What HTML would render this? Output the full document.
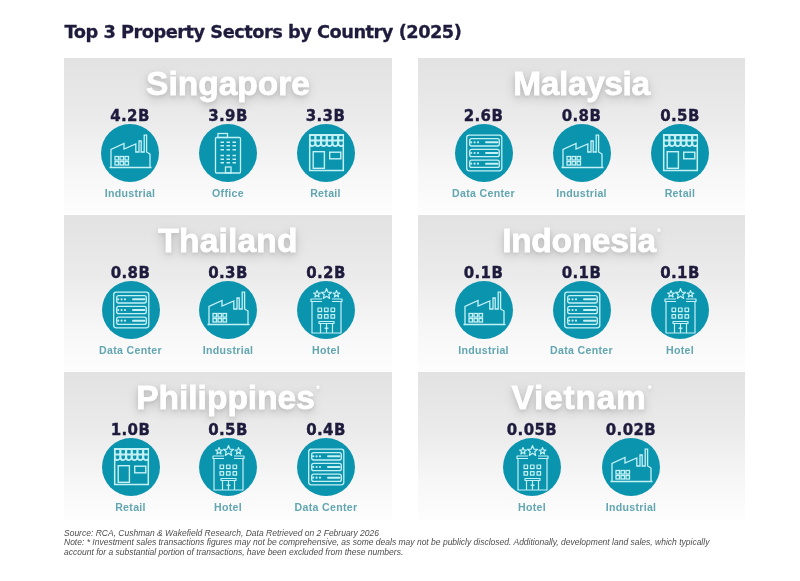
<!DOCTYPE html>
<html><head><meta charset="utf-8">
<style>
*{margin:0;padding:0;box-sizing:border-box}
html,body{width:800px;height:581px;background:#fff;overflow:hidden}
body{position:relative;font-family:"Liberation Sans",sans-serif}
h1{position:absolute;left:64.5px;top:20px;-webkit-text-stroke:0.3px #1e1b3d;font:700 17.8px/24px "DejaVu Sans",sans-serif;color:#1e1b3d;letter-spacing:-0.5px;white-space:nowrap}
.p{position:absolute;width:328px;height:156px;background:linear-gradient(180deg,#e2e2e2 0%,#ebebeb 40%,#f7f7f7 75%,#fdfdfd 100%)}
.cn{position:absolute;left:0;right:0;top:9px;text-align:center;font:700 33.5px/33px "Liberation Sans",sans-serif;letter-spacing:0px;color:#fff;-webkit-text-stroke:0.8px #fff;text-shadow:0 2px 4px rgba(0,0,0,.13),0 4px 12px rgba(0,0,0,.2)}
.cn sup{font-size:10px;line-height:9px;vertical-align:top;position:relative;top:4px;margin-left:1px;-webkit-text-stroke:0;letter-spacing:0}
.it{position:absolute;top:0;width:90px;margin-left:-45px;text-align:center}
.v{position:absolute;left:0;right:0;top:49px;font:700 15px/18px "DejaVu Sans",sans-serif;color:#1e1b3d;letter-spacing:0.4px;-webkit-text-stroke:0.35px #1e1b3d}
.c{position:absolute;left:16px;top:66px;width:58px;height:58px}
.l{position:absolute;left:0;right:0;top:129px;font:700 10.6px/13px "Liberation Sans",sans-serif;color:#62a6b1;letter-spacing:0.3px;white-space:nowrap}
.note{position:absolute;left:64px;top:529px;font:italic 400 8.5px/9.3px "Liberation Sans",sans-serif;color:#4d4d4d;white-space:nowrap}
</style></head><body>


<h1>Top 3 Property Sectors by Country (2025)</h1>

<!-- Singapore -->
<div class="p" style="left:64px;top:58px">
<div class="cn">Singapore</div>
<div class="it" style="left:66px"><div class="v">4.2B</div><svg class="c" viewBox="-29 -29 58 58"><circle r="29" fill="#0b94ae"/><g fill="none" stroke="#c4f1f6" stroke-width="1.3" stroke-linejoin="miter">
<path d="M-20.5 14.5H21.5M-19 14.5V-3.5L-6-9.5V-4L5.8-9V-1H9V-12H11.2V-1H14.2V-17.8H16.6V-1L20 1V14.5"/>
<rect x="-15" y="3.5" width="3.5" height="3.5"/><rect x="-10" y="3.5" width="3.5" height="3.5"/><rect x="-5" y="3.5" width="3.5" height="3.5"/>
<rect x="-15" y="8.5" width="3.5" height="3.5"/><rect x="-10" y="8.5" width="3.5" height="3.5"/><rect x="-5" y="8.5" width="3.5" height="3.5"/>
</g></svg><div class="l">Industrial</div></div>
<div class="it" style="left:164px"><div class="v">3.9B</div><svg class="c" viewBox="-29 -29 58 58"><circle r="29" fill="#0b94ae"/><g fill="none" stroke="#c4f1f6" stroke-width="1.3">
<rect x="-12.5" y="-15.5" width="25" height="35.5" rx="1"/>
<rect x="-10" y="-19.5" width="9.5" height="4"/>
<rect x="-2.5" y="14" width="5.5" height="6"/>
<path stroke-width="1.6" d="M-7.5-10.7H-4M-1.5-10.7H2M4.5-10.7H8M-7.5-7.2H-4M-1.5-7.2H2M4.5-7.2H8M-7.5-3.2H-4M-1.5-3.2H2M4.5-3.2H8M-7.5 2.5H-4M-1.5 2.5H2M4.5 2.5H8M-7.5 6.2H-4M-1.5 6.2H2M4.5 6.2H8M-7.5 9.8H-4M-1.5 9.8H2M4.5 9.8H8"/>
</g></svg><div class="l">Office</div></div>
<div class="it" style="left:261.5px"><div class="v">3.3B</div><svg class="c" viewBox="-29 -29 58 58"><circle r="29" fill="#0b94ae"/><g fill="none" stroke="#c4f1f6" stroke-width="1.4">
<path fill="#c4f1f6" stroke="none" d="M-17.05 -19H18.05V-7.2Q15.12 -4.6 12.20 -7.2Q9.27 -4.6 6.35 -7.2Q3.42 -4.6 0.50 -7.2Q-2.43 -4.6 -5.35 -7.2Q-8.28 -4.6 -11.20 -7.2Q-14.13 -4.6 -17.05 -7.2Z"/>
<g fill="#0b94ae" stroke="none"><rect x="-15.25" y="-17" width="3.5" height="3.5" rx="0.4"/><path d="M-15.25 -11.5h3.5v1.9a1.75 1.75 0 0 1 -3.5 0z"/><rect x="-9.55" y="-17" width="3.5" height="3.5" rx="0.4"/><path d="M-9.55 -11.5h3.5v1.9a1.75 1.75 0 0 1 -3.5 0z"/><rect x="-3.85" y="-17" width="3.5" height="3.5" rx="0.4"/><path d="M-3.85 -11.5h3.5v1.9a1.75 1.75 0 0 1 -3.5 0z"/><rect x="1.85" y="-17" width="3.5" height="3.5" rx="0.4"/><path d="M1.85 -11.5h3.5v1.9a1.75 1.75 0 0 1 -3.5 0z"/><rect x="7.55" y="-17" width="3.5" height="3.5" rx="0.4"/><path d="M7.55 -11.5h3.5v1.9a1.75 1.75 0 0 1 -3.5 0z"/><rect x="13.25" y="-17" width="3.5" height="3.5" rx="0.4"/><path d="M13.25 -11.5h3.5v1.9a1.75 1.75 0 0 1 -3.5 0z"/></g>
<path stroke-width="1.5" d="M-16.3 -8V17.5H17.3V-8"/>
<rect x="-12.8" y="-1.3" width="11.2" height="16.6"/>
<rect x="3.7" y="-0.8" width="11.1" height="6.6"/>
</g></svg><div class="l">Retail</div></div>
</div>

<!-- Malaysia -->
<div class="p" style="left:418px;top:58px;width:327px">
<div class="cn" style="letter-spacing:-0.4px">Malaysia</div>
<div class="it" style="left:65.5px"><div class="v">2.6B</div><svg class="c" viewBox="-29 -29 58 58"><circle r="29" fill="#0b94ae"/><g fill="none" stroke="#c4f1f6" stroke-width="1.3">
<rect x="-17.3" y="-17.8" width="35.1" height="35.6" rx="2.5"/>
<rect x="-14.3" y="-14.3" width="29.6" height="7.3" rx="2"/>
<rect x="-14.3" y="-3.6" width="29.6" height="7.3" rx="2"/>
<rect x="-14.3" y="7.1" width="29.6" height="7.3" rx="2"/>
<path stroke-width="2" stroke-linecap="round" d="M2 -10.7H13.5M2 0H13.5M2 10.7H13.5"/>
<g fill="#c4f1f6" stroke="none">
<circle cx="-12.8" cy="-10.7" r="1.1"/><circle cx="-9.4" cy="-10.7" r="1.1"/><circle cx="-6" cy="-10.7" r="1.1"/><circle cx="-12.8" cy="0" r="1.1"/><circle cx="-9.4" cy="0" r="1.1"/><circle cx="-6" cy="0" r="1.1"/><circle cx="-12.8" cy="10.7" r="1.1"/><circle cx="-9.4" cy="10.7" r="1.1"/><circle cx="-6" cy="10.7" r="1.1"/>
</g>
</g></svg><div class="l">Data Center</div></div>
<div class="it" style="left:163.5px"><div class="v">0.8B</div><svg class="c" viewBox="-29 -29 58 58"><circle r="29" fill="#0b94ae"/><g fill="none" stroke="#c4f1f6" stroke-width="1.3" stroke-linejoin="miter">
<path d="M-20.5 14.5H21.5M-19 14.5V-3.5L-6-9.5V-4L5.8-9V-1H9V-12H11.2V-1H14.2V-17.8H16.6V-1L20 1V14.5"/>
<rect x="-15" y="3.5" width="3.5" height="3.5"/><rect x="-10" y="3.5" width="3.5" height="3.5"/><rect x="-5" y="3.5" width="3.5" height="3.5"/>
<rect x="-15" y="8.5" width="3.5" height="3.5"/><rect x="-10" y="8.5" width="3.5" height="3.5"/><rect x="-5" y="8.5" width="3.5" height="3.5"/>
</g></svg><div class="l">Industrial</div></div>
<div class="it" style="left:262px"><div class="v">0.5B</div><svg class="c" viewBox="-29 -29 58 58"><circle r="29" fill="#0b94ae"/><g fill="none" stroke="#c4f1f6" stroke-width="1.4">
<path fill="#c4f1f6" stroke="none" d="M-17.05 -19H18.05V-7.2Q15.12 -4.6 12.20 -7.2Q9.27 -4.6 6.35 -7.2Q3.42 -4.6 0.50 -7.2Q-2.43 -4.6 -5.35 -7.2Q-8.28 -4.6 -11.20 -7.2Q-14.13 -4.6 -17.05 -7.2Z"/>
<g fill="#0b94ae" stroke="none"><rect x="-15.25" y="-17" width="3.5" height="3.5" rx="0.4"/><path d="M-15.25 -11.5h3.5v1.9a1.75 1.75 0 0 1 -3.5 0z"/><rect x="-9.55" y="-17" width="3.5" height="3.5" rx="0.4"/><path d="M-9.55 -11.5h3.5v1.9a1.75 1.75 0 0 1 -3.5 0z"/><rect x="-3.85" y="-17" width="3.5" height="3.5" rx="0.4"/><path d="M-3.85 -11.5h3.5v1.9a1.75 1.75 0 0 1 -3.5 0z"/><rect x="1.85" y="-17" width="3.5" height="3.5" rx="0.4"/><path d="M1.85 -11.5h3.5v1.9a1.75 1.75 0 0 1 -3.5 0z"/><rect x="7.55" y="-17" width="3.5" height="3.5" rx="0.4"/><path d="M7.55 -11.5h3.5v1.9a1.75 1.75 0 0 1 -3.5 0z"/><rect x="13.25" y="-17" width="3.5" height="3.5" rx="0.4"/><path d="M13.25 -11.5h3.5v1.9a1.75 1.75 0 0 1 -3.5 0z"/></g>
<path stroke-width="1.5" d="M-16.3 -8V17.5H17.3V-8"/>
<rect x="-12.8" y="-1.3" width="11.2" height="16.6"/>
<rect x="3.7" y="-0.8" width="11.1" height="6.6"/>
</g></svg><div class="l">Retail</div></div>
</div>

<!-- Thailand -->
<div class="p" style="left:64px;top:215px">
<div class="cn" style="letter-spacing:0.2px">Thailand</div>
<div class="it" style="left:66.5px"><div class="v">0.8B</div><svg class="c" viewBox="-29 -29 58 58"><circle r="29" fill="#0b94ae"/><g fill="none" stroke="#c4f1f6" stroke-width="1.3">
<rect x="-17.3" y="-17.8" width="35.1" height="35.6" rx="2.5"/>
<rect x="-14.3" y="-14.3" width="29.6" height="7.3" rx="2"/>
<rect x="-14.3" y="-3.6" width="29.6" height="7.3" rx="2"/>
<rect x="-14.3" y="7.1" width="29.6" height="7.3" rx="2"/>
<path stroke-width="2" stroke-linecap="round" d="M2 -10.7H13.5M2 0H13.5M2 10.7H13.5"/>
<g fill="#c4f1f6" stroke="none">
<circle cx="-12.8" cy="-10.7" r="1.1"/><circle cx="-9.4" cy="-10.7" r="1.1"/><circle cx="-6" cy="-10.7" r="1.1"/><circle cx="-12.8" cy="0" r="1.1"/><circle cx="-9.4" cy="0" r="1.1"/><circle cx="-6" cy="0" r="1.1"/><circle cx="-12.8" cy="10.7" r="1.1"/><circle cx="-9.4" cy="10.7" r="1.1"/><circle cx="-6" cy="10.7" r="1.1"/>
</g>
</g></svg><div class="l">Data Center</div></div>
<div class="it" style="left:164px"><div class="v">0.3B</div><svg class="c" viewBox="-29 -29 58 58"><circle r="29" fill="#0b94ae"/><g fill="none" stroke="#c4f1f6" stroke-width="1.3" stroke-linejoin="miter">
<path d="M-20.5 14.5H21.5M-19 14.5V-3.5L-6-9.5V-4L5.8-9V-1H9V-12H11.2V-1H14.2V-17.8H16.6V-1L20 1V14.5"/>
<rect x="-15" y="3.5" width="3.5" height="3.5"/><rect x="-10" y="3.5" width="3.5" height="3.5"/><rect x="-5" y="3.5" width="3.5" height="3.5"/>
<rect x="-15" y="8.5" width="3.5" height="3.5"/><rect x="-10" y="8.5" width="3.5" height="3.5"/><rect x="-5" y="8.5" width="3.5" height="3.5"/>
</g></svg><div class="l">Industrial</div></div>
<div class="it" style="left:262px"><div class="v">0.2B</div><svg class="c" viewBox="-29 -29 58 58"><circle r="29" fill="#0b94ae"/><g fill="none" stroke="#c4f1f6" stroke-width="1.2" stroke-linejoin="round">
<path d="M-9-19.5L-8.1-17.1L-5.6-17L-7.6-15.4L-6.9-13L-9-14.4L-11.1-13L-10.4-15.4L-12.4-17L-9.9-17.1Z"/>
<path d="M10.5-19.5L11.4-17.1L13.9-17L11.9-15.4L12.6-13L10.5-14.4L8.4-13L9.1-15.4L7.1-17L9.6-17.1Z"/>
<path d="M0.5-21.5L1.9-17.9L5.6-17.7L2.7-15.3L3.7-11.6L0.5-13.7L-2.7-11.6L-1.7-15.3L-4.6-17.7L-0.9-17.9Z"/>
<path d="M-4-11H-15V-8.5H-4M6-11H16V-8.5H6"/>
<path d="M-14-8.5V23H15V-8.5"/>
<rect x="-8" y="-2" width="3.6" height="3.6"/><rect x="-1.5" y="-2" width="3.6" height="3.6"/><rect x="5" y="-2" width="3.6" height="3.6"/>
<rect x="-8" y="4.6" width="3.6" height="3.6"/><rect x="-1.5" y="4.6" width="3.6" height="3.6"/><rect x="5" y="4.6" width="3.6" height="3.6"/>
<path d="M-7 13.5V11.5H8V13.5ZM-5.5 13.5V23M6.5 13.5V23M0.5 13.5V23M-0.8 17.5V19M1.8 17.5V19"/>
</g></svg><div class="l">Hotel</div></div>
</div>

<!-- Indonesia -->
<div class="p" style="left:418px;top:215px;width:327px">
<div class="cn" style="letter-spacing:-0.3px">Indonesia<sup>*</sup></div>
<div class="it" style="left:65.5px"><div class="v">0.1B</div><svg class="c" viewBox="-29 -29 58 58"><circle r="29" fill="#0b94ae"/><g fill="none" stroke="#c4f1f6" stroke-width="1.3" stroke-linejoin="miter">
<path d="M-20.5 14.5H21.5M-19 14.5V-3.5L-6-9.5V-4L5.8-9V-1H9V-12H11.2V-1H14.2V-17.8H16.6V-1L20 1V14.5"/>
<rect x="-15" y="3.5" width="3.5" height="3.5"/><rect x="-10" y="3.5" width="3.5" height="3.5"/><rect x="-5" y="3.5" width="3.5" height="3.5"/>
<rect x="-15" y="8.5" width="3.5" height="3.5"/><rect x="-10" y="8.5" width="3.5" height="3.5"/><rect x="-5" y="8.5" width="3.5" height="3.5"/>
</g></svg><div class="l">Industrial</div></div>
<div class="it" style="left:163.5px"><div class="v">0.1B</div><svg class="c" viewBox="-29 -29 58 58"><circle r="29" fill="#0b94ae"/><g fill="none" stroke="#c4f1f6" stroke-width="1.3">
<rect x="-17.3" y="-17.8" width="35.1" height="35.6" rx="2.5"/>
<rect x="-14.3" y="-14.3" width="29.6" height="7.3" rx="2"/>
<rect x="-14.3" y="-3.6" width="29.6" height="7.3" rx="2"/>
<rect x="-14.3" y="7.1" width="29.6" height="7.3" rx="2"/>
<path stroke-width="2" stroke-linecap="round" d="M2 -10.7H13.5M2 0H13.5M2 10.7H13.5"/>
<g fill="#c4f1f6" stroke="none">
<circle cx="-12.8" cy="-10.7" r="1.1"/><circle cx="-9.4" cy="-10.7" r="1.1"/><circle cx="-6" cy="-10.7" r="1.1"/><circle cx="-12.8" cy="0" r="1.1"/><circle cx="-9.4" cy="0" r="1.1"/><circle cx="-6" cy="0" r="1.1"/><circle cx="-12.8" cy="10.7" r="1.1"/><circle cx="-9.4" cy="10.7" r="1.1"/><circle cx="-6" cy="10.7" r="1.1"/>
</g>
</g></svg><div class="l">Data Center</div></div>
<div class="it" style="left:262px"><div class="v">0.1B</div><svg class="c" viewBox="-29 -29 58 58"><circle r="29" fill="#0b94ae"/><g fill="none" stroke="#c4f1f6" stroke-width="1.2" stroke-linejoin="round">
<path d="M-9-19.5L-8.1-17.1L-5.6-17L-7.6-15.4L-6.9-13L-9-14.4L-11.1-13L-10.4-15.4L-12.4-17L-9.9-17.1Z"/>
<path d="M10.5-19.5L11.4-17.1L13.9-17L11.9-15.4L12.6-13L10.5-14.4L8.4-13L9.1-15.4L7.1-17L9.6-17.1Z"/>
<path d="M0.5-21.5L1.9-17.9L5.6-17.7L2.7-15.3L3.7-11.6L0.5-13.7L-2.7-11.6L-1.7-15.3L-4.6-17.7L-0.9-17.9Z"/>
<path d="M-4-11H-15V-8.5H-4M6-11H16V-8.5H6"/>
<path d="M-14-8.5V23H15V-8.5"/>
<rect x="-8" y="-2" width="3.6" height="3.6"/><rect x="-1.5" y="-2" width="3.6" height="3.6"/><rect x="5" y="-2" width="3.6" height="3.6"/>
<rect x="-8" y="4.6" width="3.6" height="3.6"/><rect x="-1.5" y="4.6" width="3.6" height="3.6"/><rect x="5" y="4.6" width="3.6" height="3.6"/>
<path d="M-7 13.5V11.5H8V13.5ZM-5.5 13.5V23M6.5 13.5V23M0.5 13.5V23M-0.8 17.5V19M1.8 17.5V19"/>
</g></svg><div class="l">Hotel</div></div>
</div>

<!-- Philippines -->
<div class="p" style="left:64px;top:372px;height:148px">
<div class="cn">Philippines<sup>*</sup></div>
<div class="it" style="left:66.5px"><div class="v">1.0B</div><svg class="c" viewBox="-29 -29 58 58"><circle r="29" fill="#0b94ae"/><g fill="none" stroke="#c4f1f6" stroke-width="1.4">
<path fill="#c4f1f6" stroke="none" d="M-17.05 -19H18.05V-7.2Q15.12 -4.6 12.20 -7.2Q9.27 -4.6 6.35 -7.2Q3.42 -4.6 0.50 -7.2Q-2.43 -4.6 -5.35 -7.2Q-8.28 -4.6 -11.20 -7.2Q-14.13 -4.6 -17.05 -7.2Z"/>
<g fill="#0b94ae" stroke="none"><rect x="-15.25" y="-17" width="3.5" height="3.5" rx="0.4"/><path d="M-15.25 -11.5h3.5v1.9a1.75 1.75 0 0 1 -3.5 0z"/><rect x="-9.55" y="-17" width="3.5" height="3.5" rx="0.4"/><path d="M-9.55 -11.5h3.5v1.9a1.75 1.75 0 0 1 -3.5 0z"/><rect x="-3.85" y="-17" width="3.5" height="3.5" rx="0.4"/><path d="M-3.85 -11.5h3.5v1.9a1.75 1.75 0 0 1 -3.5 0z"/><rect x="1.85" y="-17" width="3.5" height="3.5" rx="0.4"/><path d="M1.85 -11.5h3.5v1.9a1.75 1.75 0 0 1 -3.5 0z"/><rect x="7.55" y="-17" width="3.5" height="3.5" rx="0.4"/><path d="M7.55 -11.5h3.5v1.9a1.75 1.75 0 0 1 -3.5 0z"/><rect x="13.25" y="-17" width="3.5" height="3.5" rx="0.4"/><path d="M13.25 -11.5h3.5v1.9a1.75 1.75 0 0 1 -3.5 0z"/></g>
<path stroke-width="1.5" d="M-16.3 -8V17.5H17.3V-8"/>
<rect x="-12.8" y="-1.3" width="11.2" height="16.6"/>
<rect x="3.7" y="-0.8" width="11.1" height="6.6"/>
</g></svg><div class="l">Retail</div></div>
<div class="it" style="left:164px"><div class="v">0.5B</div><svg class="c" viewBox="-29 -29 58 58"><circle r="29" fill="#0b94ae"/><g fill="none" stroke="#c4f1f6" stroke-width="1.2" stroke-linejoin="round">
<path d="M-9-19.5L-8.1-17.1L-5.6-17L-7.6-15.4L-6.9-13L-9-14.4L-11.1-13L-10.4-15.4L-12.4-17L-9.9-17.1Z"/>
<path d="M10.5-19.5L11.4-17.1L13.9-17L11.9-15.4L12.6-13L10.5-14.4L8.4-13L9.1-15.4L7.1-17L9.6-17.1Z"/>
<path d="M0.5-21.5L1.9-17.9L5.6-17.7L2.7-15.3L3.7-11.6L0.5-13.7L-2.7-11.6L-1.7-15.3L-4.6-17.7L-0.9-17.9Z"/>
<path d="M-4-11H-15V-8.5H-4M6-11H16V-8.5H6"/>
<path d="M-14-8.5V23H15V-8.5"/>
<rect x="-8" y="-2" width="3.6" height="3.6"/><rect x="-1.5" y="-2" width="3.6" height="3.6"/><rect x="5" y="-2" width="3.6" height="3.6"/>
<rect x="-8" y="4.6" width="3.6" height="3.6"/><rect x="-1.5" y="4.6" width="3.6" height="3.6"/><rect x="5" y="4.6" width="3.6" height="3.6"/>
<path d="M-7 13.5V11.5H8V13.5ZM-5.5 13.5V23M6.5 13.5V23M0.5 13.5V23M-0.8 17.5V19M1.8 17.5V19"/>
</g></svg><div class="l">Hotel</div></div>
<div class="it" style="left:262px"><div class="v">0.4B</div><svg class="c" viewBox="-29 -29 58 58"><circle r="29" fill="#0b94ae"/><g fill="none" stroke="#c4f1f6" stroke-width="1.3">
<rect x="-17.3" y="-17.8" width="35.1" height="35.6" rx="2.5"/>
<rect x="-14.3" y="-14.3" width="29.6" height="7.3" rx="2"/>
<rect x="-14.3" y="-3.6" width="29.6" height="7.3" rx="2"/>
<rect x="-14.3" y="7.1" width="29.6" height="7.3" rx="2"/>
<path stroke-width="2" stroke-linecap="round" d="M2 -10.7H13.5M2 0H13.5M2 10.7H13.5"/>
<g fill="#c4f1f6" stroke="none">
<circle cx="-12.8" cy="-10.7" r="1.1"/><circle cx="-9.4" cy="-10.7" r="1.1"/><circle cx="-6" cy="-10.7" r="1.1"/><circle cx="-12.8" cy="0" r="1.1"/><circle cx="-9.4" cy="0" r="1.1"/><circle cx="-6" cy="0" r="1.1"/><circle cx="-12.8" cy="10.7" r="1.1"/><circle cx="-9.4" cy="10.7" r="1.1"/><circle cx="-6" cy="10.7" r="1.1"/>
</g>
</g></svg><div class="l">Data Center</div></div>
</div>

<!-- Vietnam -->
<div class="p" style="left:418px;top:372px;width:327px;height:148px">
<div class="cn" style="letter-spacing:0.8px">Vietnam<sup>*</sup></div>
<div class="it" style="left:114px"><div class="v">0.05B</div><svg class="c" viewBox="-29 -29 58 58"><circle r="29" fill="#0b94ae"/><g fill="none" stroke="#c4f1f6" stroke-width="1.2" stroke-linejoin="round">
<path d="M-9-19.5L-8.1-17.1L-5.6-17L-7.6-15.4L-6.9-13L-9-14.4L-11.1-13L-10.4-15.4L-12.4-17L-9.9-17.1Z"/>
<path d="M10.5-19.5L11.4-17.1L13.9-17L11.9-15.4L12.6-13L10.5-14.4L8.4-13L9.1-15.4L7.1-17L9.6-17.1Z"/>
<path d="M0.5-21.5L1.9-17.9L5.6-17.7L2.7-15.3L3.7-11.6L0.5-13.7L-2.7-11.6L-1.7-15.3L-4.6-17.7L-0.9-17.9Z"/>
<path d="M-4-11H-15V-8.5H-4M6-11H16V-8.5H6"/>
<path d="M-14-8.5V23H15V-8.5"/>
<rect x="-8" y="-2" width="3.6" height="3.6"/><rect x="-1.5" y="-2" width="3.6" height="3.6"/><rect x="5" y="-2" width="3.6" height="3.6"/>
<rect x="-8" y="4.6" width="3.6" height="3.6"/><rect x="-1.5" y="4.6" width="3.6" height="3.6"/><rect x="5" y="4.6" width="3.6" height="3.6"/>
<path d="M-7 13.5V11.5H8V13.5ZM-5.5 13.5V23M6.5 13.5V23M0.5 13.5V23M-0.8 17.5V19M1.8 17.5V19"/>
</g></svg><div class="l">Hotel</div></div>
<div class="it" style="left:213px"><div class="v">0.02B</div><svg class="c" viewBox="-29 -29 58 58"><circle r="29" fill="#0b94ae"/><g fill="none" stroke="#c4f1f6" stroke-width="1.3" stroke-linejoin="miter">
<path d="M-20.5 14.5H21.5M-19 14.5V-3.5L-6-9.5V-4L5.8-9V-1H9V-12H11.2V-1H14.2V-17.8H16.6V-1L20 1V14.5"/>
<rect x="-15" y="3.5" width="3.5" height="3.5"/><rect x="-10" y="3.5" width="3.5" height="3.5"/><rect x="-5" y="3.5" width="3.5" height="3.5"/>
<rect x="-15" y="8.5" width="3.5" height="3.5"/><rect x="-10" y="8.5" width="3.5" height="3.5"/><rect x="-5" y="8.5" width="3.5" height="3.5"/>
</g></svg><div class="l">Industrial</div></div>
</div>

<div class="note">Source: RCA, Cushman &amp; Wakefield Research, Data Retrieved on 2 February 2026<br>Note: * Investment sales transactions figures may not be comprehensive, as some deals may not be publicly disclosed. Additionally, development land sales, which typically<br>account for a substantial portion of transactions, have been excluded from these numbers.</div>
</body></html>
